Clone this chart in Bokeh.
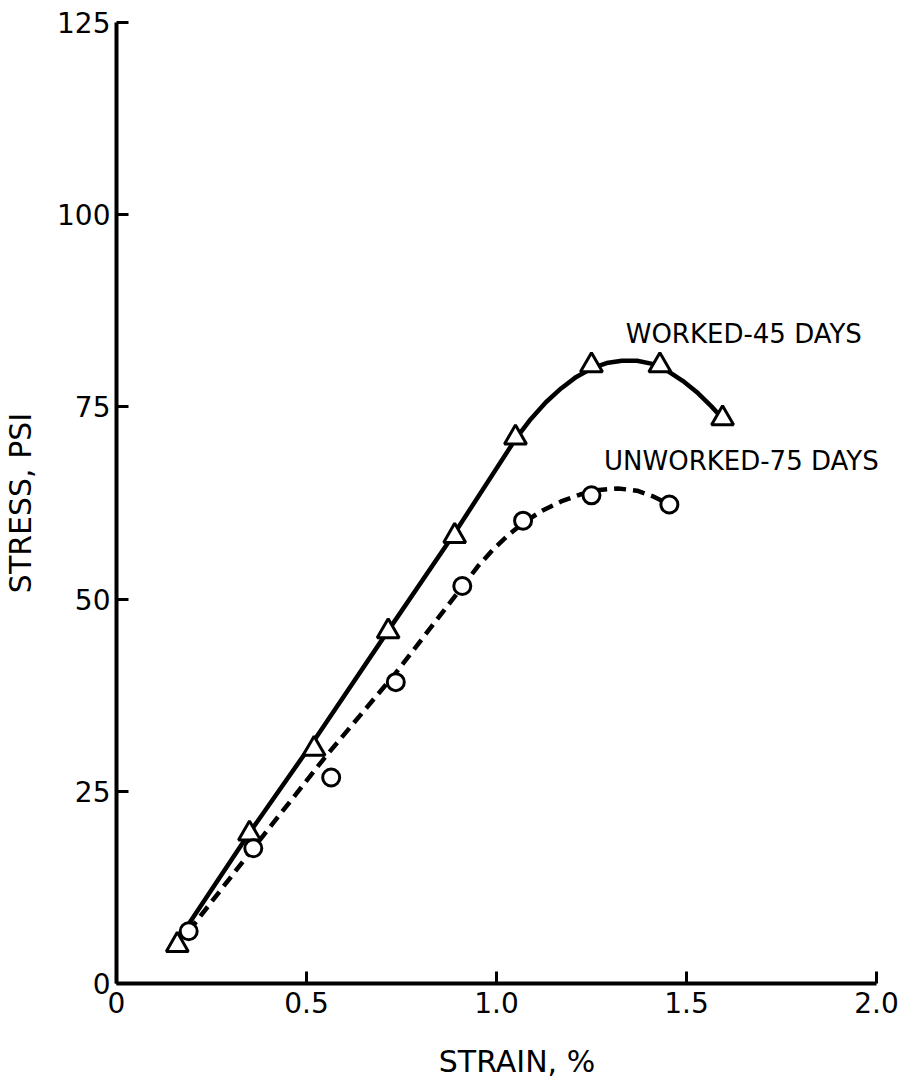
from bokeh.plotting import figure
from bokeh.models import Range1d, FixedTicker, Label
from bokeh.embed import file_html
from bokeh.resources import INLINE

# ---- data ----
worked_strain = [0.16, 0.35, 0.52, 0.715, 0.89, 1.05, 1.25, 1.43, 1.595]
worked_stress = [5.0, 19.5, 30.5, 45.8, 58.2, 71.0, 80.4, 80.4, 73.5]

unworked_strain = [0.19, 0.36, 0.565, 0.735, 0.91, 1.07, 1.25, 1.455]
unworked_stress = [6.8, 17.6, 26.8, 39.2, 51.7, 60.2, 63.5, 62.3]

# smooth fitted curves as drawn in the reference
worked_curve_strain = [0.18, 0.35, 0.52, 0.715, 0.89, 1.05, 1.09, 1.13, 1.17, 1.21,
                       1.25, 1.29, 1.33, 1.37, 1.41, 1.45, 1.49, 1.53, 1.565, 1.595]
worked_curve_stress = [7.0, 19.6, 31.6, 45.9, 58.6, 70.8, 73.4, 75.6, 77.4, 78.9,
                       80.0, 80.7, 81.0, 81.0, 80.6, 79.7, 78.4, 76.8, 75.1, 73.5]

unworked_curve_strain = [0.19, 0.36, 0.55, 0.735, 0.91, 0.95, 0.99, 1.03, 1.07, 1.12,
                         1.17, 1.22, 1.27, 1.32, 1.37, 1.41, 1.455]
unworked_curve_stress = [6.8, 17.6, 29.5, 40.4, 51.6, 54.2, 56.4, 58.3, 59.9, 61.5,
                         62.7, 63.6, 64.2, 64.4, 64.1, 63.4, 62.3]

x_ticks = [0, 0.5, 1.0, 1.5, 2.0]
x_tick_labels = ["0", "0.5", "1.0", "1.5", "2.0"]
y_ticks = [0, 25, 50, 75, 100, 125]
y_tick_labels = ["0", "25", "50", "75", "100", "125"]

series_labels = ["WORKED-45 DAYS", "UNWORKED-75 DAYS"]
label_x = [1.34, 1.283]
label_y = [84.5, 68.0]

FONT = "DejaVu Sans"

p = figure(width=917, height=1082, output_backend="svg", toolbar_location=None,
           x_range=Range1d(0, 2.108), y_range=Range1d(0, 125),
           min_border_left=115, min_border_right=0, min_border_top=22,
           min_border_bottom=99)
p.background_fill_color = "white"
p.border_fill_color = "white"
p.outline_line_color = None
p.xgrid.visible = False
p.ygrid.visible = False

for ax in (p.xaxis[0], p.yaxis[0]):
    ax.axis_line_width = 4
    ax.axis_line_color = "black"
    ax.major_tick_in = 12
    ax.major_tick_out = 0
    ax.major_tick_line_width = 3
    ax.major_tick_line_color = "black"
    ax.minor_tick_line_color = None
    ax.major_label_text_font = FONT
    ax.major_label_text_font_size = "28px"
    ax.major_label_text_color = "black"
    ax.axis_label_text_font = FONT
    ax.axis_label_text_font_size = "30px"
    ax.axis_label_text_font_style = "normal"
    ax.axis_label_text_color = "black"

p.xaxis.bounds = (0, 2.0)
p.yaxis.bounds = (0, 125)
p.xaxis.ticker = FixedTicker(ticks=x_ticks)
p.yaxis.ticker = FixedTicker(ticks=y_ticks)
p.xaxis.major_label_overrides = {float(t): l for t, l in zip(x_ticks, x_tick_labels)}
p.yaxis.major_label_overrides = {float(t): l for t, l in zip(y_ticks, y_tick_labels)}
p.xaxis.axis_label = "STRAIN, %"
p.yaxis.axis_label = "STRESS, PSI"
p.xaxis.major_label_standoff = 8
p.yaxis.major_label_standoff = 6
p.xaxis.axis_label_standoff = 28
p.yaxis.axis_label_standoff = 16

# curves
p.line(worked_curve_strain, worked_curve_stress, line_color="black", line_width=4.5,
       line_join="round", line_cap="round")
p.line(unworked_curve_strain, unworked_curve_stress, line_color="black", line_width=4.5,
       line_dash="12 7", line_join="round")

# markers
p.scatter(worked_strain, worked_stress, marker="triangle", size=22,
          fill_color="white", line_color="black", line_width=3)
p.scatter(unworked_strain, unworked_stress, marker="circle", size=17,
          fill_color="white", line_color="black", line_width=3)

for txt, lx, ly in zip(series_labels, label_x, label_y):
    p.add_layout(Label(x=lx, y=ly, text=txt, text_font=FONT, text_font_size="26px",
                       text_baseline="middle", text_align="left", text_color="black"))

open("out.html", "w").write(file_html(p, INLINE))
